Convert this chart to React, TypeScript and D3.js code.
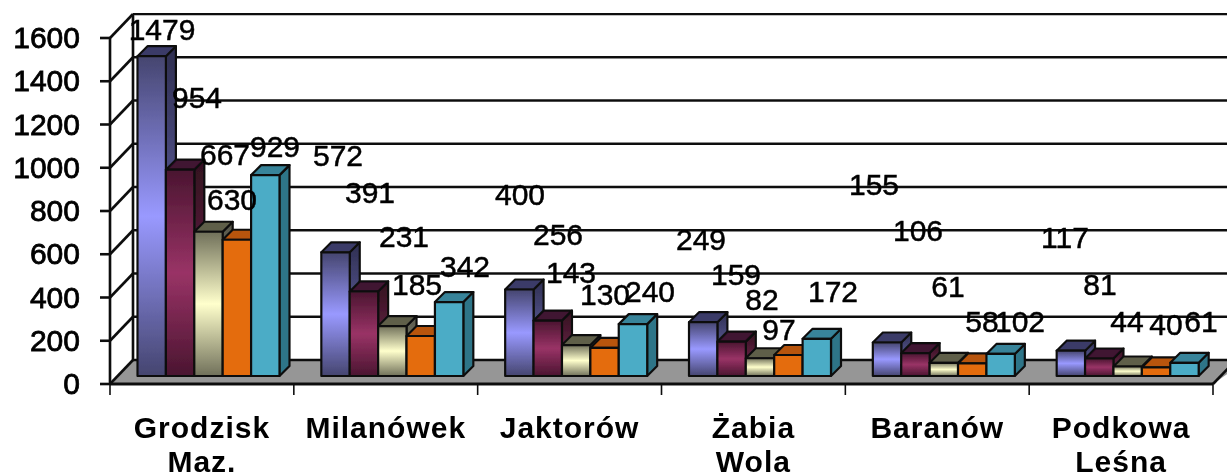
import React from "react";
import * as d3 from "d3";

const categories = [["Grodzisk", "Maz."], ["Milanówek"], ["Jaktorów"], ["Żabia", "Wola"], ["Baranów"], ["Podkowa", "Leśna"]];
const seriesA = [1479, 572, 400, 249, 155, 117];
const seriesB = [954, 391, 256, 159, 106, 81];
const seriesC = [667, 231, 143, 82, 61, 44];
const seriesD = [630, 185, 130, 97, 58, 40];
const seriesE = [929, 342, 240, 172, 102, 61];
const allSeries = [seriesA, seriesB, seriesC, seriesD, seriesE];
const yTicks = [0, 200, 400, 600, 800, 1000, 1200, 1400, 1600];

// Hand-placed label anchors of the original (centre x, baseline y), per series then category
const labelX = [
  [162, 338, 520, 701, 874, 1065],
  [197, 370, 558, 736, 918, 1100],
  [225, 404, 571, 762, 948, 1127],
  [232, 417, 605, 779, 982, 1166],
  [275, 465, 650, 833, 1020, 1201],
];
const labelY = [
  [40, 166, 205, 250, 195, 248],
  [108, 203, 245, 285, 241, 295],
  [165, 247, 283, 310, 297, 332],
  [210, 295, 305, 340, 332, 335],
  [157, 277, 302, 302, 332, 332],
];

const W = 1227, H = 475;
const xLeft = 110, xRight = 1213;
const wallDx = 23;
const barDepth = 10;
const front = d3.scaleLinear().domain([0, 1600]).range([384, 38]);
const back = d3.scaleLinear().domain([0, 1600]).range([360, 14]);
const barY = d3.scaleLinear().domain([0, 1600]).range([376, 30]);
const bandX = d3.scaleBand<number>().domain(d3.range(categories.length)).range([xLeft, xRight]);
const barX = d3.scaleBand<number>().domain(d3.range(allSeries.length)).range([27.5, 169.5]);
const font = "'Liberation Sans', Arial, sans-serif";

const fills = [
  { id: "a", end: "#45456f", mid: "#9999ff", sideEnd: "#2e2e50", sideMid: "#55558f", top: "#3a3a68" },
  { id: "b", end: "#4a1530", mid: "#993366", sideEnd: "#32101f", sideMid: "#5a1f3c", top: "#3f1230" },
  { id: "c", end: "#70705a", mid: "#ffffcc", sideEnd: "#55554a", sideMid: "#80806a", top: "#5f5f4a" },
  { id: "d", end: "#e46c0a", mid: "#e46c0a", sideEnd: "#a85008", sideMid: "#a85008", top: "#b85508" },
  { id: "e", end: "#4bacc6", mid: "#4bacc6", sideEnd: "#2f7488", sideMid: "#2f7488", top: "#37849a" },
];

const pts = (p: number[][]) => p.map((q) => q.join(",")).join(" ");

export default function App() {
  const bw = barX.bandwidth();
  return (
    <svg width={W} height={H} viewBox={`0 0 ${W} ${H}`} style={{ position: "absolute", left: 0, top: 0, background: "#fff" }}>
      <defs>
        {fills.map((f) => (
          <React.Fragment key={f.id}>
            <linearGradient id={`front-${f.id}`} x1="0" y1="0" x2="0" y2="1">
              <stop offset="0" stopColor={f.end} />
              <stop offset="0.5" stopColor={f.mid} />
              <stop offset="1" stopColor={f.end} />
            </linearGradient>
            <linearGradient id={`side-${f.id}`} x1="0" y1="0" x2="0" y2="1">
              <stop offset="0" stopColor={f.sideEnd} />
              <stop offset="0.5" stopColor={f.sideMid} />
              <stop offset="1" stopColor={f.sideEnd} />
            </linearGradient>
          </React.Fragment>
        ))}
        <filter id="soft" x="0" y="0" width="100%" height="100%">
          <feGaussianBlur stdDeviation="0.55" />
        </filter>
      </defs>
      <g filter="url(#soft)">
        <polygon
          points={pts([[xLeft, front(0)], [xLeft + wallDx, back(0)], [W + 20, back(0)], [xRight, front(0)]])}
          fill="#969696"
        />
        <g stroke="#111" strokeWidth={2.6} fill="none">
          {yTicks.map((t) => (
            <g key={t}>
              <line x1={xLeft + wallDx} x2={W} y1={back(t)} y2={back(t)} />
              <line x1={xLeft} x2={xLeft + wallDx} y1={front(t)} y2={back(t)} />
              <line x1={xLeft - 10} x2={xLeft} y1={front(t)} y2={front(t)} />
            </g>
          ))}
          <line x1={xLeft} x2={xLeft} y1={front(0)} y2={front(1600)} />
          <line x1={xLeft + wallDx} x2={xLeft + wallDx} y1={back(0)} y2={back(1600)} />
          <line x1={xLeft} x2={xRight} y1={front(0)} y2={front(0)} strokeWidth={3} />
          <line x1={xRight} x2={xRight + wallDx} y1={front(0)} y2={back(0)} />
          {d3.range(categories.length + 1).map((i) => {
            const x = xLeft + bandX.bandwidth() * i;
            return <line key={i} x1={x} x2={x} y1={front(0)} y2={front(0) + 11} strokeWidth={1.6} />;
          })}
        </g>

        {categories.map((_, c) => (
          <g key={c}>
            {allSeries.map((s, i) => {
              const x0 = bandX(c)! + barX(i)!;
              const x1 = x0 + bw;
              const y0 = barY(0);
              const yt = barY(s[c]);
              const f = fills[i];
              return (
                <g key={i} stroke="#111" strokeWidth={2.2} strokeLinejoin="round">
                  <polygon
                    points={pts([[x1, y0], [x1 + barDepth, y0 - barDepth], [x1 + barDepth, yt - barDepth], [x1, yt]])}
                    fill={`url(#side-${f.id})`}
                  />
                  <polygon
                    points={pts([[x0, yt], [x0 + barDepth, yt - barDepth], [x1 + barDepth, yt - barDepth], [x1, yt]])}
                    fill={f.top}
                  />
                  <rect x={x0} y={yt} width={bw} height={y0 - yt} fill={`url(#front-${f.id})`} />
                </g>
              );
            })}
          </g>
        ))}

        <g fontFamily={font} fill="#000">
          {yTicks.map((t) => (
            <text key={t} x={80} y={front(t) + 10} textAnchor="end" fontSize={30} stroke="#000" strokeWidth={0.8}>
              {t}
            </text>
          ))}
          {allSeries.map((s, i) =>
            s.map((v, c) => (
              <text key={`${i}-${c}`} x={labelX[i][c]} y={labelY[i][c]} textAnchor="middle" fontSize={30} stroke="#000" strokeWidth={0.5}>
                {v}
              </text>
            ))
          )}
          {categories.map((lines, c) =>
            lines.map((l, k) => (
              <text
                key={l}
                x={bandX(c)! + bandX.bandwidth() / 2}
                y={438 + k * 34}
                textAnchor="middle"
                fontSize={30}
                fontWeight="bold"
                letterSpacing={1}
              >
                {l}
              </text>
            ))
          )}
        </g>
      </g>
    </svg>
  );
}
